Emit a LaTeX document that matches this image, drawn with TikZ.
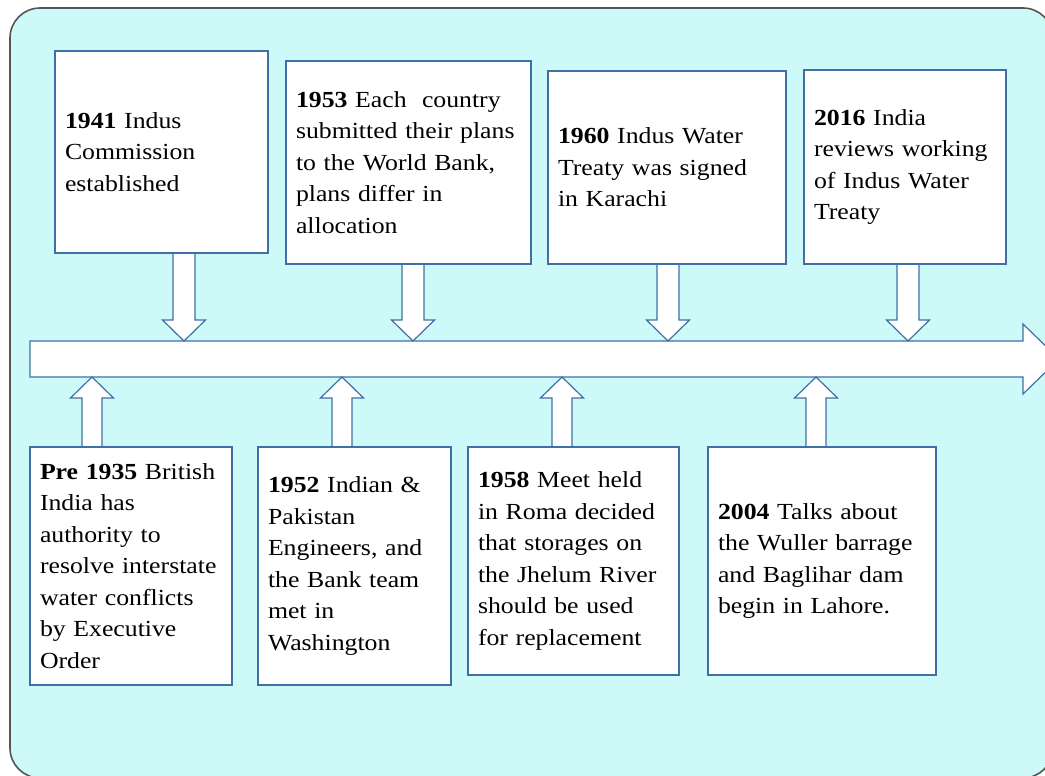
\documentclass[tikz,border=0pt]{standalone}
\usepackage{fontspec}
\setmainfont{Liberation Serif}[FakeStretch=1.12]
\usetikzlibrary{calc,backgrounds}
\definecolor{bgcyan}{RGB}{205,249,249}
\definecolor{boxblue}{RGB}{62,112,166}
\definecolor{framegray}{RGB}{85,85,85}
\tikzset{
  event/.style={draw=boxblue, line width=1.2pt, fill=white, align=left,
    inner xsep=10pt, inner ysep=0pt, font=\fontsize{23}{31.5}\selectfont},
  blockarr/.style={draw=boxblue, line width=1.2pt, fill=white, line join=miter},
}
% block arrow from an event box down to the time line: x, box, line edge
\newcommand{\tldown}[3]{%
  \filldraw[blockarr] let \p1=(#2.south), \p2=(#3) in
    (#1pt-11pt,\y1) -- (#1pt-11pt,\y2+21pt) -- (#1pt-21.5pt,\y2+21pt) -- (#1pt,\y2)
    -- (#1pt+21.5pt,\y2+21pt) -- (#1pt+11pt,\y2+21pt) -- (#1pt+11pt,\y1);}
% block arrow from an event box up to the time line
\newcommand{\tlup}[3]{%
  \filldraw[blockarr] let \p1=(#2.north), \p2=(#3) in
    (#1pt-10pt,\y1) -- (#1pt-10pt,\y2-21pt) -- (#1pt-21.5pt,\y2-21pt) -- (#1pt,\y2)
    -- (#1pt+21.5pt,\y2-21pt) -- (#1pt+10pt,\y2-21pt) -- (#1pt+10pt,\y1);}
\begin{document}
\begin{tikzpicture}[x=1pt, y=-1pt]
  \useasboundingbox (0,0) rectangle (1045,776);
  % events above the line
  \node[event, text width=193pt, minimum width=213pt, minimum height=202pt] (e1941) at (161.5,152)
    {\textbf{1941} Indus\\Commission\\established};
  \node[event, text width=225pt, minimum width=245pt, minimum height=203pt] (e1953) at (408.5,162.5)
    {\textbf{1953} Each\ \ country\\submitted their plans\\to the World Bank,\\plans differ in\\allocation};
  \node[event, text width=218pt, minimum width=238pt, minimum height=193pt] (e1960) at (667,167.5)
    {\textbf{1960} Indus Water\\Treaty was signed\\in Karachi};
  \node[event, text width=182pt, minimum width=202pt, minimum height=194pt] (e2016) at (905,167)
    {\textbf{2016} India\\reviews working\\of Indus Water\\Treaty};
  % events below the line
  \node[event, text width=182pt, minimum width=202pt, minimum height=238pt] (epre) at (131,566)
    {\textbf{Pre 1935} British\\India has\\authority to\\resolve interstate\\water conflicts\\by Executive\\Order};
  \node[event, text width=173pt, minimum width=193pt, minimum height=238pt] (e1952) at (354.5,566)
    {\textbf{1952} Indian \&\\Pakistan\\Engineers, and\\the Bank team\\met in\\Washington};
  \node[event, text width=191pt, minimum width=211pt, minimum height=228pt] (e1958) at (573.5,561)
    {\textbf{1958} Meet held\\in Roma decided\\that storages on\\the Jhelum River\\should be used\\for replacement};
  \node[event, text width=208pt, minimum width=228pt, minimum height=228pt] (e2004) at (822,561)
    {\textbf{2004} Talks about\\the Wuller barrage\\and Baglihar dam\\begin in Lahore.};
  \begin{pgfonlayer}{background}
    \draw[framegray, line width=1.6pt, fill=bgcyan, rounded corners=30pt] (10,8) rectangle (1053,778);
    % time line
    \filldraw[blockarr] (30,341) -- (1023,341) -- (1023,324) -- (1059,359)
      -- (1023,394) -- (1023,377) -- (30,377) -- cycle;
    \coordinate (tltop) at (30,341);
    \coordinate (tlbot) at (30,377);
    \tldown{184}{e1941}{tltop}
    \tldown{413}{e1953}{tltop}
    \tldown{668}{e1960}{tltop}
    \tldown{908}{e2016}{tltop}
    \tlup{92}{epre}{tlbot}
    \tlup{342}{e1952}{tlbot}
    \tlup{562}{e1958}{tlbot}
    \tlup{816}{e2004}{tlbot}
  \end{pgfonlayer}
\end{tikzpicture}
\end{document}
